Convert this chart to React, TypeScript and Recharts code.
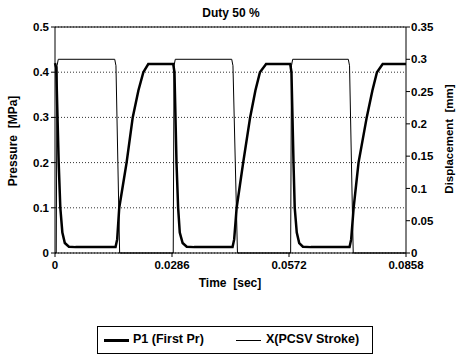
import { LineChart, Line, XAxis, YAxis, CartesianGrid, ReferenceLine, Label } from 'recharts'

// P1 (First Pr) pressure, MPa
const p1Time = [
  0, 0.0003, 0.0009, 0.0013, 0.0018, 0.0024, 0.0034, 0.005, 0.0148, 0.0152, 0.0157, 0.0166, 0.0175, 0.019,
  0.0204, 0.0216, 0.0228, 0.0289, 0.0292, 0.0297, 0.0301, 0.0305, 0.0312, 0.0322, 0.034, 0.0434, 0.0438,
  0.0444, 0.0452, 0.046, 0.0477, 0.049, 0.0501, 0.0516, 0.0575, 0.0578, 0.0583, 0.0586, 0.0591, 0.0597,
  0.0606, 0.0625, 0.072, 0.0724, 0.073, 0.0736, 0.0742, 0.0762, 0.0776, 0.0787, 0.0801, 0.0858,
]
const p1Value = [
  0.42, 0.41, 0.2, 0.1, 0.045, 0.022, 0.014, 0.013, 0.013, 0.03, 0.1, 0.15, 0.2, 0.3,
  0.36, 0.4, 0.418, 0.418, 0.4, 0.2, 0.1, 0.045, 0.022, 0.014, 0.013, 0.013, 0.03,
  0.1, 0.15, 0.2, 0.3, 0.36, 0.4, 0.418, 0.418, 0.4, 0.2, 0.1, 0.045, 0.022,
  0.014, 0.013, 0.013, 0.03, 0.1, 0.15, 0.2, 0.3, 0.36, 0.4, 0.418, 0.418,
]

// X (PCSV Stroke) displacement, mm
const strokeTime = [
  0, 0.0003, 0.0005, 0.0008, 0.0146, 0.0149, 0.0158, 0.0289, 0.0291, 0.0294, 0.0432, 0.0435, 0.0446,
  0.0576, 0.0578, 0.0581, 0.0717, 0.072, 0.0729, 0.0858,
]
const strokeValue = [
  0, 0, 0.29, 0.3, 0.3, 0.29, 0, 0, 0.29, 0.3, 0.3, 0.29, 0,
  0, 0.29, 0.3, 0.3, 0.29, 0, 0,
]

const timeTicks = [0, 0.0286, 0.0572, 0.0858]
const pressureTicks = [0, 0.1, 0.2, 0.3, 0.4, 0.5]
const strokeTicks = [0, 0.05, 0.1, 0.15, 0.2, 0.25, 0.3, 0.35]

const p1Data = p1Time.map((t, i) => ({ t, p1: p1Value[i] }))
const strokeData = strokeTime.map((t, i) => ({ t, x: strokeValue[i] }))

const font = '"Liberation Sans", Arial, sans-serif'
const tickStyle = { fill: '#000', fontSize: 11.5, fontWeight: 700, fontFamily: font }

export default function App() {
  return (
    <div style={{ position: 'absolute', left: 0, top: 0, width: 456, height: 356, background: '#fff', fontFamily: font }}>
      <div style={{ position: 'absolute', left: 0, width: 462, top: 6, textAlign: 'center', fontSize: 12, fontWeight: 700 }}>
        Duty 50 %
      </div>
      <LineChart width={456} height={356} margin={{ top: 27, right: 10, bottom: 73, left: 10 }}>
        <CartesianGrid yAxisId="left" vertical={false} stroke="#333" strokeDasharray="1 2" />
        <XAxis
          dataKey="t"
          type="number"
          domain={[0, 0.0858]}
          ticks={timeTicks}
          height={30}
          tickSize={4}
          tickMargin={4}
          tick={tickStyle}
          stroke="#000"
          allowDuplicatedCategory={false}
        >
          <Label
            content={() => (
              <text x={230} y={287} textAnchor="middle" style={{ whiteSpace: 'pre' }} fontSize={12} fontWeight={700} fontFamily={font}>
                {'Time  [sec]'}
              </text>
            )}
          />
        </XAxis>
        <YAxis
          yAxisId="left"
          domain={[0, 0.5]}
          ticks={pressureTicks}
          width={45}
          tickSize={4}
          tick={tickStyle}
          stroke="#000"
        >
          <Label
            content={() => (
              <text x={17} y={141} transform="rotate(-90 17 141)" textAnchor="middle" style={{ whiteSpace: 'pre' }} fontSize={12} fontWeight={700} fontFamily={font}>
                {'Pressure  [MPa]'}
              </text>
            )}
          />
        </YAxis>
        <YAxis
          yAxisId="right"
          orientation="right"
          domain={[0, 0.35]}
          ticks={strokeTicks}
          width={40}
          tickSize={4}
          tickMargin={1}
          tick={tickStyle}
          stroke="#000"
        >
          <Label
            content={() => (
              <text x={453} y={139} transform="rotate(-90 453 139)" textAnchor="middle" style={{ whiteSpace: 'pre' }} fontSize={11.5} fontWeight={700} fontFamily={font}>
                {'Displacement  [mm]'}
              </text>
            )}
          />
        </YAxis>
        <ReferenceLine yAxisId="left" y={0.5} stroke="#000" />
        <Line
          yAxisId="right"
          data={strokeData}
          dataKey="x"
          stroke="#000"
          strokeWidth={1}
          dot={false}
          isAnimationActive={false}
        />
        <Line
          yAxisId="left"
          data={p1Data}
          dataKey="p1"
          stroke="#000"
          strokeWidth={2.5}
          dot={false}
          isAnimationActive={false}
        />
      </LineChart>
      <div
        style={{
          position: 'absolute',
          left: 97,
          top: 326,
          width: 274,
          height: 26,
          border: '1px solid #000',
          fontSize: 12.5,
          fontWeight: 600,
        }}
      >
        <div style={{ position: 'absolute', left: 6, top: 12, width: 25, height: 3, background: '#000' }} />
        <div style={{ position: 'absolute', left: 35, top: 5 }}>P1 (First Pr)</div>
        <div style={{ position: 'absolute', left: 138, top: 13, width: 25, height: 1, background: '#000' }} />
        <div style={{ position: 'absolute', left: 168, top: 5 }}>X(PCSV Stroke)</div>
      </div>
    </div>
  )
}
